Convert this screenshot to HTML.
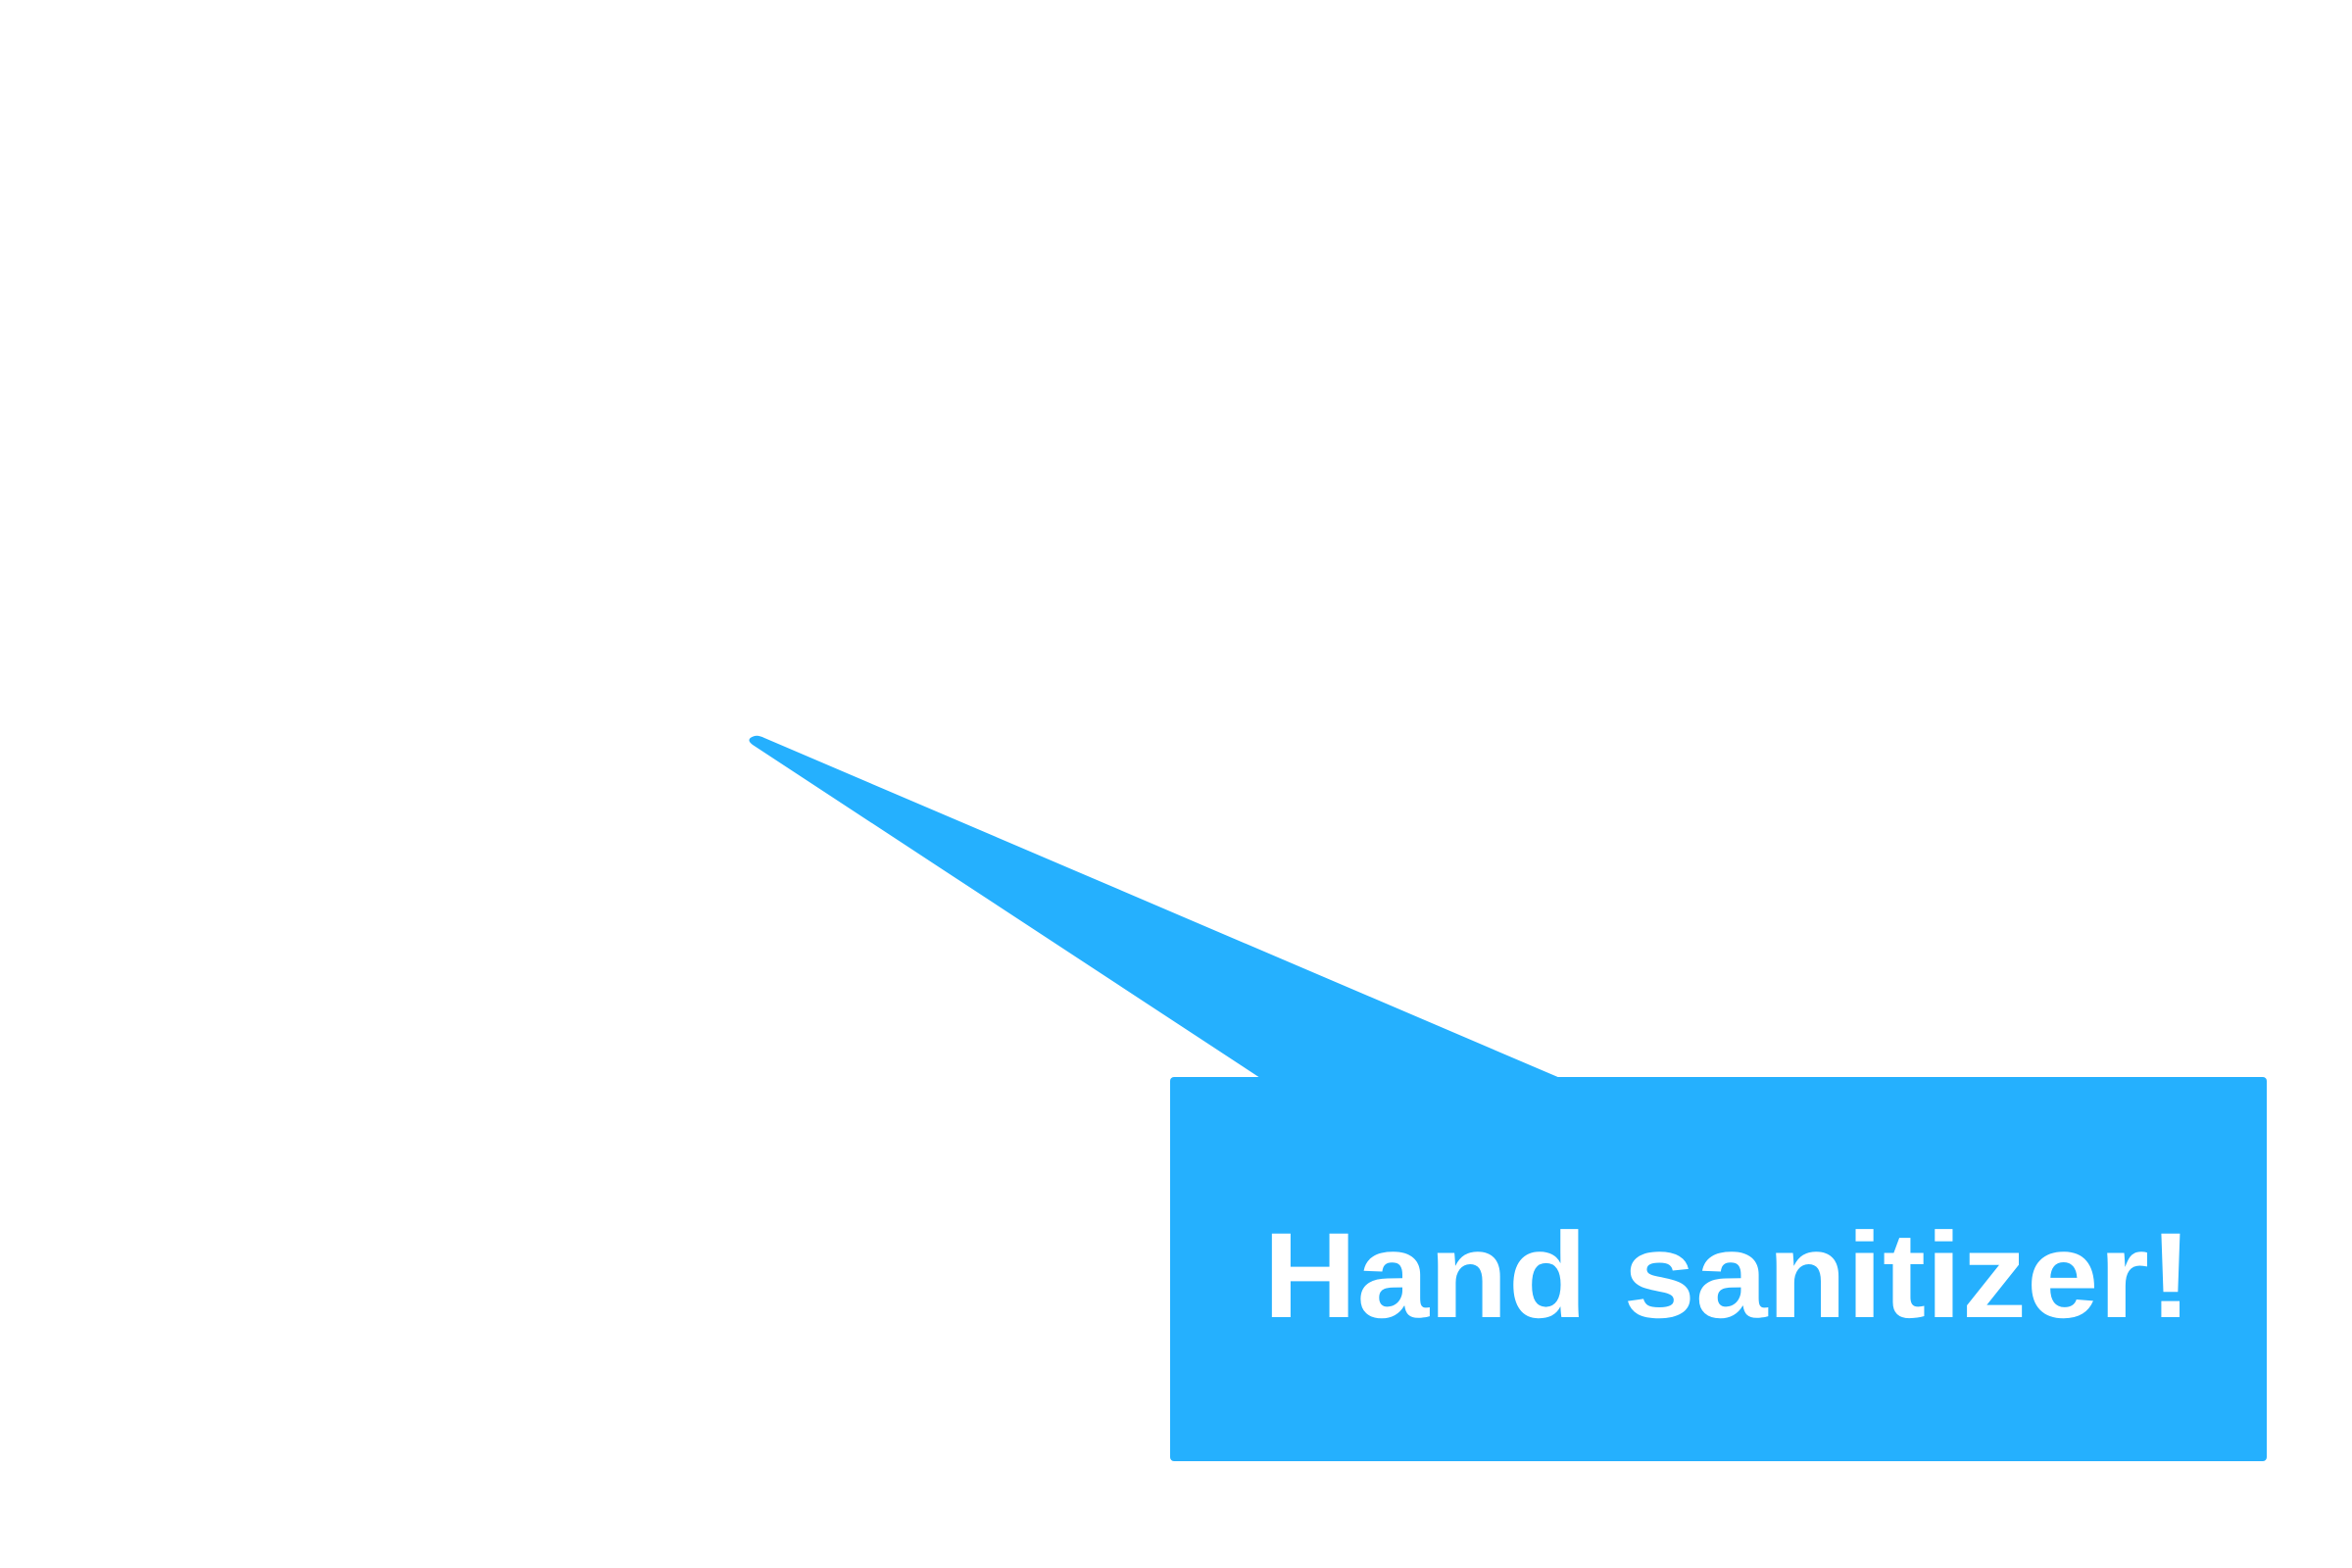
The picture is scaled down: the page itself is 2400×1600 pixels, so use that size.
<!DOCTYPE html>
<html>
<head>
<meta charset="utf-8">
<style>
html,body{margin:0;padding:0;background:#fff;}
svg{display:block;}
</style>
</head>
<body>
<svg width="2400" height="1600" viewBox="0 0 2400 1600" xmlns="http://www.w3.org/2000/svg">
  <rect x="0" y="0" width="2400" height="1600" fill="#ffffff"/>
  <path d="M1286 1100 L768 760 Q760 754 770 751 Q774 750 780 753 L1592 1100 Z" fill="#25b0fe"/>
  <rect x="1194" y="1099" width="1119" height="392" rx="4" ry="4" fill="#25b0fe"/>
  <text x="1289" y="1344" font-family="'Liberation Sans', sans-serif" font-weight="bold" font-size="124" fill="#ffffff" textLength="948" lengthAdjust="spacingAndGlyphs">Hand sanitizer!</text>
</svg>
</body>
</html>
